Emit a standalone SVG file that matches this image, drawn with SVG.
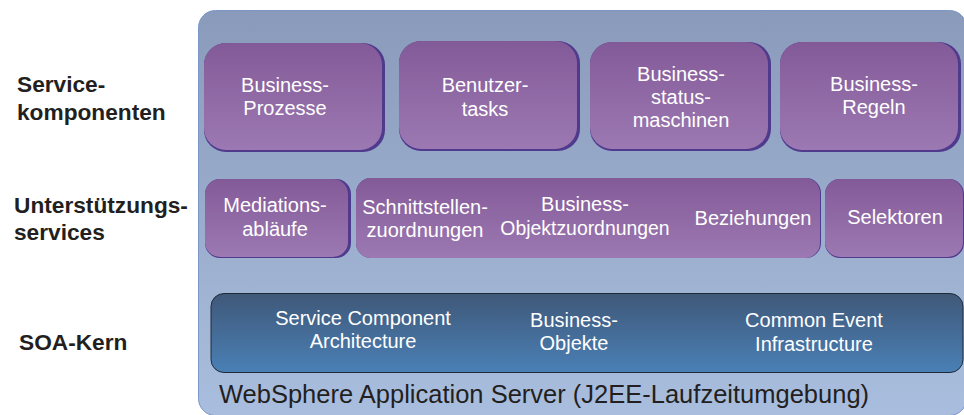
<svg xmlns="http://www.w3.org/2000/svg" width="964" height="415" viewBox="0 0 964 415">
<style>
text{font-family:"Liberation Sans",Arial,sans-serif;text-anchor:middle}
.w{fill:#fff;font-size:20px}
.l{fill:#231f20;font-size:22.700px;font-weight:bold;text-anchor:start}
.s{fill:#4f3a8e}
.p{fill:url(#pu)}
</style>
<defs>
<linearGradient id="bg" x1="0" y1="0" x2="0" y2="1"><stop offset="0" stop-color="#8a9aba"/><stop offset="1" stop-color="#a9bede"/></linearGradient>
<linearGradient id="pu" x1="0" y1="0" x2="0" y2="1"><stop offset="0" stop-color="#835a98"/><stop offset="1" stop-color="#9c79b2"/></linearGradient>
<linearGradient id="bl" x1="0" y1="0" x2="0" y2="1"><stop offset="0" stop-color="#3f5878"/><stop offset="1" stop-color="#4a80b6"/></linearGradient>
</defs>
<rect x="198.500" y="10.500" width="768" height="405" rx="17" fill="url(#bg)" stroke="#7c96c8"/>
<g id="connectors"></g>
<g id="n1"><rect class="s" x="204" y="43" width="181" height="109" rx="22"/><rect class="p" x="204" y="43" width="178" height="107" rx="22"/><text class="w" x="285" y="92">Business-</text><text class="w" x="285" y="115">Prozesse</text></g>
<g id="n2"><rect class="s" x="399" y="41" width="181" height="110" rx="22"/><rect class="p" x="399" y="41" width="178" height="108" rx="22"/><text class="w" x="485" y="92">Benutzer-</text><text class="w" x="485" y="116">tasks</text></g>
<g id="n3"><rect class="s" x="590" y="42" width="181" height="109" rx="22"/><rect class="p" x="590" y="42" width="178" height="107" rx="22"/><text class="w" x="681" y="81">Business-</text><text class="w" x="681" y="104">status-</text><text class="w" x="681" y="127">maschinen</text></g>
<g id="n4"><rect class="s" x="780" y="42" width="181" height="110" rx="22"/><rect class="p" x="780" y="42" width="178" height="108" rx="22"/><text class="w" x="874" y="91">Business-</text><text class="w" x="874" y="114">Regeln</text></g>
<g id="n5"><rect class="s" x="205" y="179" width="146" height="79" rx="15"/><rect class="p" x="205" y="179" width="143" height="78" rx="15"/><text class="w" x="275" y="212">Mediations-</text><text class="w" x="275" y="236">abläufe</text></g>
<g id="n6"><rect class="s" x="356" y="178" width="465" height="80" rx="15"/><rect class="p" x="356" y="178" width="464" height="80" rx="15"/><text class="w" x="425" y="214">Schnittstellen-</text><text class="w" x="425" y="237">zuordnungen</text><text class="w" x="585" y="211">Business-</text><text class="w" x="585" y="235" style="font-size:19.400px">Objektzuordnungen</text><text class="w" x="753" y="225">Beziehungen</text></g>
<g id="n7"><rect class="s" x="825" y="179" width="139" height="79" rx="15"/><rect class="p" x="825" y="179" width="138" height="78" rx="15"/><text class="w" x="895" y="224">Selektoren</text></g>
<g id="n8"><rect x="211" y="293.500" width="752" height="79" rx="13" fill="url(#bl)" stroke="#1f2a38"/><text class="w" x="363" y="325">Service Component</text><text class="w" x="363" y="348">Architecture</text><text class="w" x="574" y="327">Business-</text><text class="w" x="574" y="350">Objekte</text><text class="w" x="814" y="327">Common Event</text><text class="w" x="814" y="351">Infrastructure</text></g>
<text x="544" y="403" style="font-size:25.500px;fill:#231f20">WebSphere Application Server (J2EE-Laufzeitumgebung)</text>
<g id="labels"><text class="l" x="17" y="92">Service-</text><text class="l" x="17" y="120">komponenten</text><text class="l" x="14" y="213">Unterstützungs-</text><text class="l" x="14" y="240">services</text><text class="l" x="19" y="350">SOA-Kern</text></g>
</svg>
